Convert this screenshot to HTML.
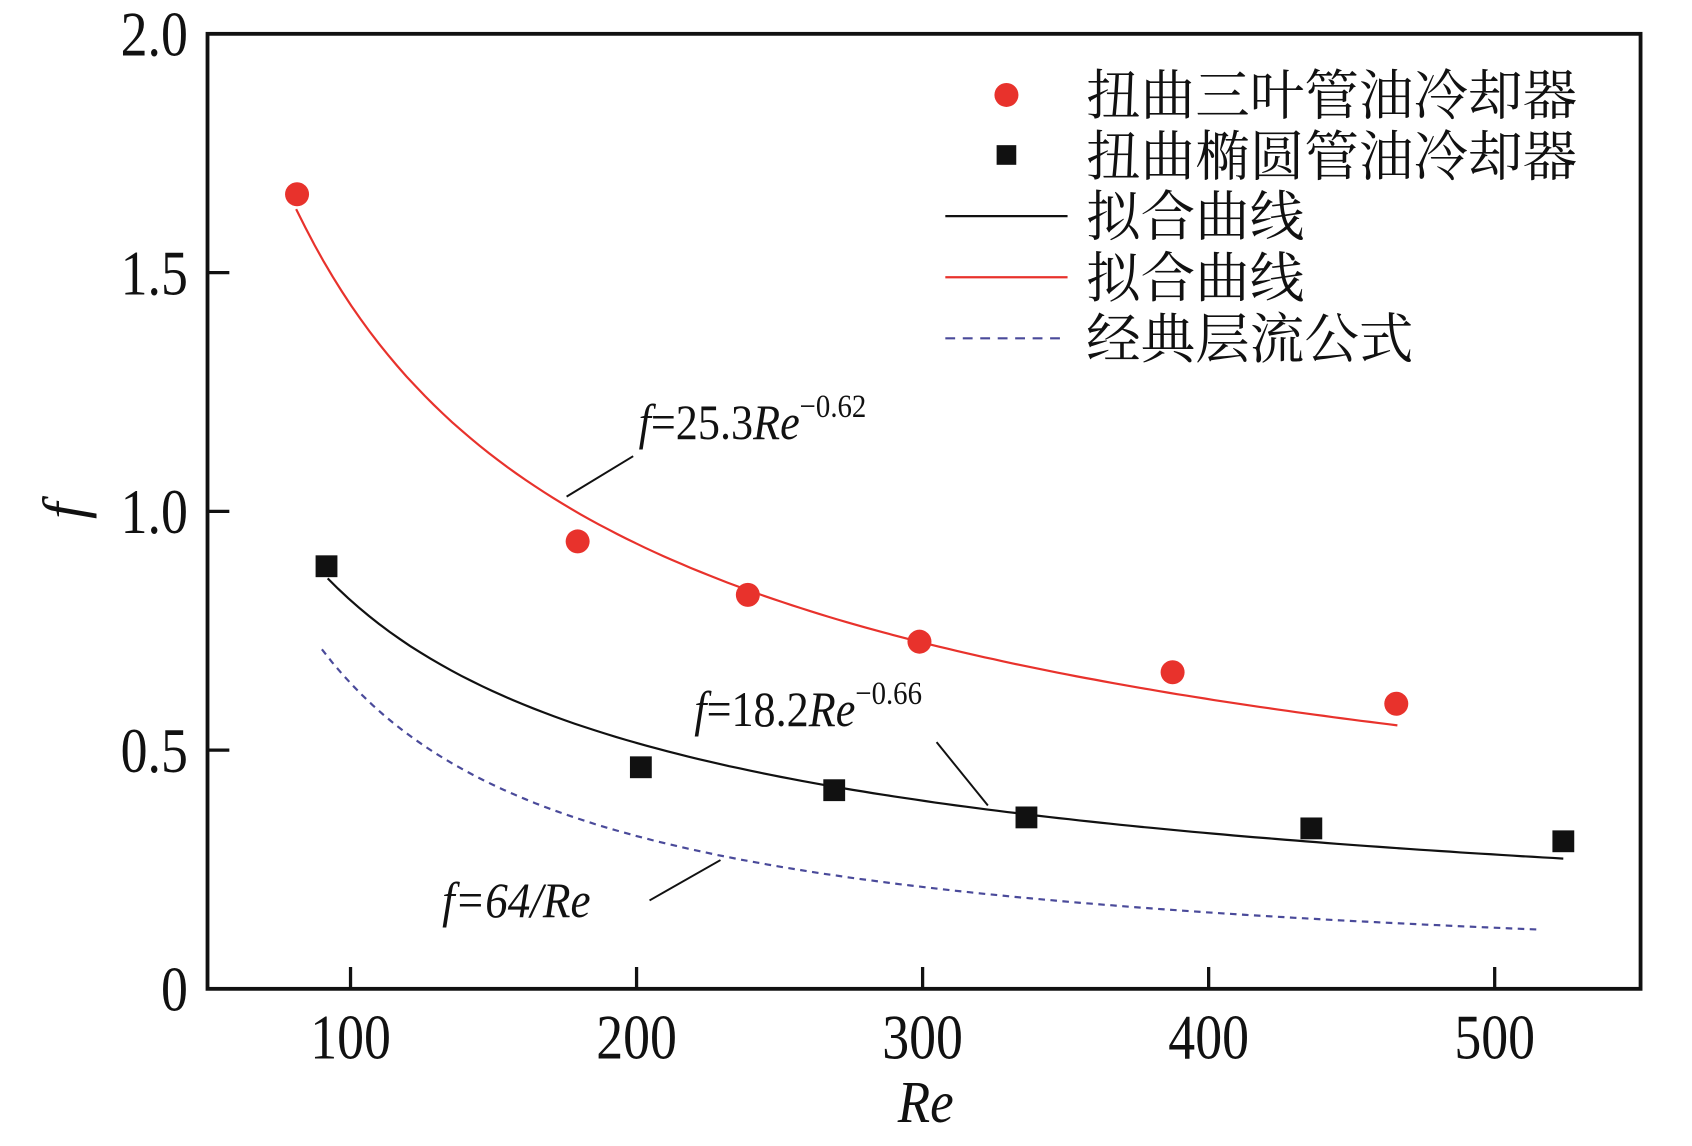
<!DOCTYPE html>
<html><head><meta charset="utf-8"><style>html,body{margin:0;padding:0;background:#fff}svg{display:block}</style></head>
<body>
<svg id="chart" width="1692" height="1146" viewBox="0 0 1550 1050" xmlns="http://www.w3.org/2000/svg" font-family="'Liberation Serif','Noto Serif CJK SC',serif">
<g id="marks"></g>
<g id="legend" font-family="'Liberation Serif','Noto Serif CJK SC',serif" font-size="50" fill="#111">
  <circle cx="922" cy="87" r="11" fill="#e8322c"/>
  <text x="995" y="105">扭曲三叶管油冷却器</text>
  <rect x="913" y="133" width="18" height="18" fill="#111"/>
  <text x="995" y="161">扭曲椭圆管油冷却器</text>
  <line x1="866" y1="198" x2="978" y2="198" stroke="#111" stroke-width="2"/>
  <text x="995" y="216">拟合曲线</text>
  <line x1="866" y1="254" x2="978" y2="254" stroke="#e8322c" stroke-width="2"/>
  <text x="995" y="272">拟合曲线</text>
  <line x1="866" y1="310" x2="978" y2="310" stroke="#4a4a9a" stroke-width="2" stroke-dasharray="9,7"/>
  <text x="995" y="328">经典层流公式</text>
</g>
<g font-size="46" fill="#111">
  <text transform="translate(585,402) scale(0.88,1)"><tspan font-style="italic">f</tspan>=25.3<tspan font-style="italic">Re</tspan><tspan font-size="30" dy="-20">−0.62</tspan></text>
  <line x1="519" y1="455" x2="580" y2="418" stroke="#111" stroke-width="1.8"/>
  <text transform="translate(636,665) scale(0.88,1)"><tspan font-style="italic">f</tspan>=18.2<tspan font-style="italic">Re</tspan><tspan font-size="30" dy="-20">−0.66</tspan></text>
  <line x1="858" y1="680" x2="905" y2="738" stroke="#111" stroke-width="1.8"/>
  <text font-style="italic" transform="translate(405,840) scale(0.9,1)">f=64/Re</text>
  <line x1="595" y1="825" x2="660" y2="788" stroke="#111" stroke-width="1.8"/>
</g>
<text font-size="54" font-style="italic" text-anchor="middle" fill="#111" transform="translate(848,1028) scale(0.9,1)">Re</text>
<text x="0" y="0" font-size="54" font-style="italic" text-anchor="middle" fill="#111" transform="translate(77,468) rotate(-90)">f</text>
<rect x="190" y="31" width="1313" height="875" fill="none" stroke="#111" stroke-width="3.5"/>
<g id="axes"></g>
</svg>
<script>
const redRe = [81.3, 179.4, 238.9, 298.9, 387.4, 465.6];
const redF = [1.664, 0.937, 0.825, 0.727, 0.663, 0.597];
const blackRe = [91.6, 201.5, 269.1, 336.3, 435.9, 524.0];
const blackF = [0.885, 0.464, 0.416, 0.359, 0.336, 0.309];
const redFit = [24.9, -0.62, 81, 466];
const blackFit = [17.0, -0.66, 92, 524];
const laminar = [64, -1, 90, 515];
const xTicks = [100, 200, 300, 400, 500];
const xTickLabels = ["100", "200", "300", "400", "500"];
const yTicks = [0, 0.5, 1.0, 1.5, 2.0];
const yTickLabels = ["0", "0.5", "1.0", "1.5", "2.0"];

const NS = "http://www.w3.org/2000/svg";
const X0 = 190, X1 = 1503, Y0 = 906, Y1 = 31, RMIN = 50, RMAX = 551, FMIN = 0, FMAX = 2;
const xs = v => X0 + (v - RMIN) / (RMAX - RMIN) * (X1 - X0);
const ys = v => Y0 - (v - FMIN) / (FMAX - FMIN) * (Y0 - Y1);
const marks = document.getElementById('marks');
const axes = document.getElementById('axes');
function mk(tag, attrs, parent) {
  const e = document.createElementNS(NS, tag);
  for (const k in attrs) e.setAttribute(k, attrs[k]);
  parent.appendChild(e);
  return e;
}
function curve(p, color, dash, name) {
  let d = "";
  const n = 120;
  for (let i = 0; i <= n; i++) {
    const r = p[2] + (p[3] - p[2]) * i / n;
    const f = p[0] * Math.pow(r, p[1]);
    d += (i ? "L" : "M") + xs(r).toFixed(1) + "," + ys(f).toFixed(1);
  }
  const el = mk('path', {d: d, fill: 'none', stroke: color, 'stroke-width': 2, 'stroke-dasharray': dash}, marks);
  
  
}
curve(redFit, '#e8322c', 'none', 'red-fit-curve');
curve(blackFit, '#111', 'none', 'black-fit-curve');
curve(laminar, '#4a4a9a', '6,5', 'laminar-curve');
redRe.forEach((r, i) => {
  const c = mk('circle', {cx: xs(r), cy: ys(redF[i]), r: 11, fill: '#e8322c'}, marks);
  
  
});
blackRe.forEach((r, i) => {
  const s = mk('rect', {x: xs(r) - 10, y: ys(blackF[i]) - 10, width: 20, height: 20, fill: '#111'}, marks);
  
  
});
xTicks.forEach((t, i) => {
  const l = mk('line', {x1: xs(t), x2: xs(t), y1: Y0, y2: Y0 - 20, stroke: '#111', 'stroke-width': 3}, axes);
  
  
  const tx = mk('text', {transform: 'translate(' + xs(t) + ',970) scale(0.85,1)', 'font-size': 58, 'text-anchor': 'middle', fill: '#111'}, axes);
  tx.textContent = xTickLabels[i];
  
  
});
yTicks.forEach((t, i) => {
  const l = mk('line', {x1: X0, x2: X0 + 20, y1: ys(t), y2: ys(t), stroke: '#111', 'stroke-width': 3}, axes);
  
  
  const tx = mk('text', {transform: 'translate(172,' + (ys(t) + 20) + ') scale(0.85,1)', 'font-size': 58, 'text-anchor': 'end', fill: '#111'}, axes);
  tx.textContent = yTickLabels[i];
  
  
});
</script>
</body></html>
